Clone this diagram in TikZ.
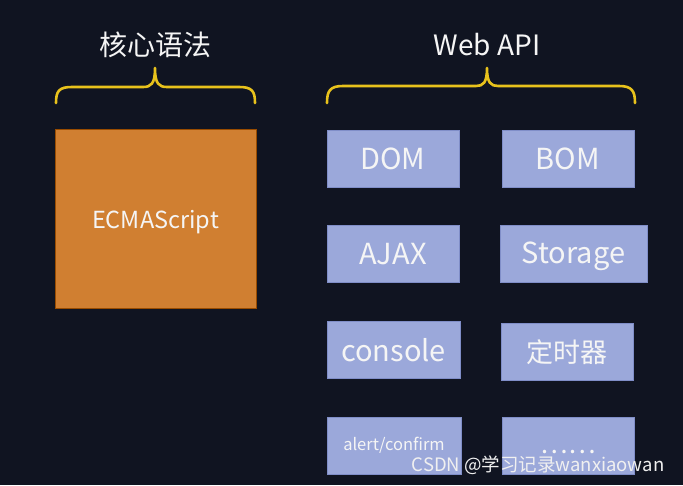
\documentclass[tikz,border=0pt]{standalone}
\usepackage{fontspec}
\setmainfont{Noto Sans CJK SC}
\definecolor{bgc}{RGB}{16,20,33}
\definecolor{orangebox}{RGB}{208,127,49}
\definecolor{bluebox}{RGB}{155,168,218}
\definecolor{blueedge}{RGB}{128,142,200}
\definecolor{bracecol}{RGB}{232,194,28}
\definecolor{txt}{RGB}{245,245,245}
\begin{document}
\begin{tikzpicture}[x=1pt,y=-1pt,
  apibox/.style={draw=blueedge, line width=1pt, fill=bluebox, text=txt, inner sep=0pt,
    minimum width=132pt, minimum height=57pt, font=\fontsize{29}{32}\selectfont},
  corebox/.style={draw=orange!60!black, line width=0.6pt, fill=orangebox, text=txt, inner sep=0pt,
    minimum width=201pt, minimum height=179pt, font=\fontsize{23.5}{26}\selectfont},
  headtext/.style={text=txt, inner sep=0pt, font=\fontsize{28}{30}\selectfont},
  bracepath/.style={draw=bracecol, line width=2.6pt, line cap=round, line join=round}
]
\fill[bgc] (0,0) rectangle (683,485);
\useasboundingbox (0,0) rectangle (683,485);

% titles
\node[headtext] (core) at (155,45) {核心语法};
\node[headtext] (web) at (487,45) {Web API};

% braces
\draw[bracepath] (56,103) .. controls (56,91) and (59,87) .. (72,87) -- (143,87)
  .. controls (151,87) and (155,84) .. (155,68)
  .. controls (155,84) and (159,87) .. (167,87) -- (239,87)
  .. controls (252,87) and (255,91) .. (255,103);
\draw[bracepath] (327,103) .. controls (327,91) and (330,86) .. (343,86) -- (476,86)
  .. controls (483,86) and (487,83) .. (487,68)
  .. controls (487,83) and (491,86) .. (498,86) -- (619,86)
  .. controls (632,86) and (635,91) .. (635,103);

% core box
\node[corebox] (ecma) at (155.5,218.5) {};
\node[text=txt, inner sep=0pt, font=\fontsize{23.5}{26}\selectfont] (ecmat) at (155.5,222) {ECMAScript};

% web api boxes
\node[apibox] (dom) at (393,159) {DOM};
\node[apibox] (bom) at (568,159) {BOM};
\node[apibox] (ajax) at (393,254) {AJAX};
\node[apibox, minimum width=147pt] (storage) at (573.5,254) {};
\node[text=txt, inner sep=0pt, font=\fontsize{29}{32}\selectfont] (storaget) at (573.5,256) {Storage};
\node[apibox, minimum width=133pt] (console) at (393.5,350) {console};
\node[apibox, font=\fontsize{27}{30}\selectfont] (timer) at (567,352) {定时器};
\node[apibox, minimum width=134pt, font=\fontsize{16.5}{18}\selectfont] (alert) at (394,445.5) {alert/confirm};
\node[apibox] (more) at (568,446) {};
\node[text=txt, inner sep=0pt, font=\fontsize{26}{28}\selectfont] (moret) at (568,452) {……};

% watermark
\node[text=white!88!gray, inner sep=0pt, font=\fontsize{18.5}{20}\selectfont] (wm) at (538,465) {CSDN @学习记录wanxiaowan};
\end{tikzpicture}
\end{document}
